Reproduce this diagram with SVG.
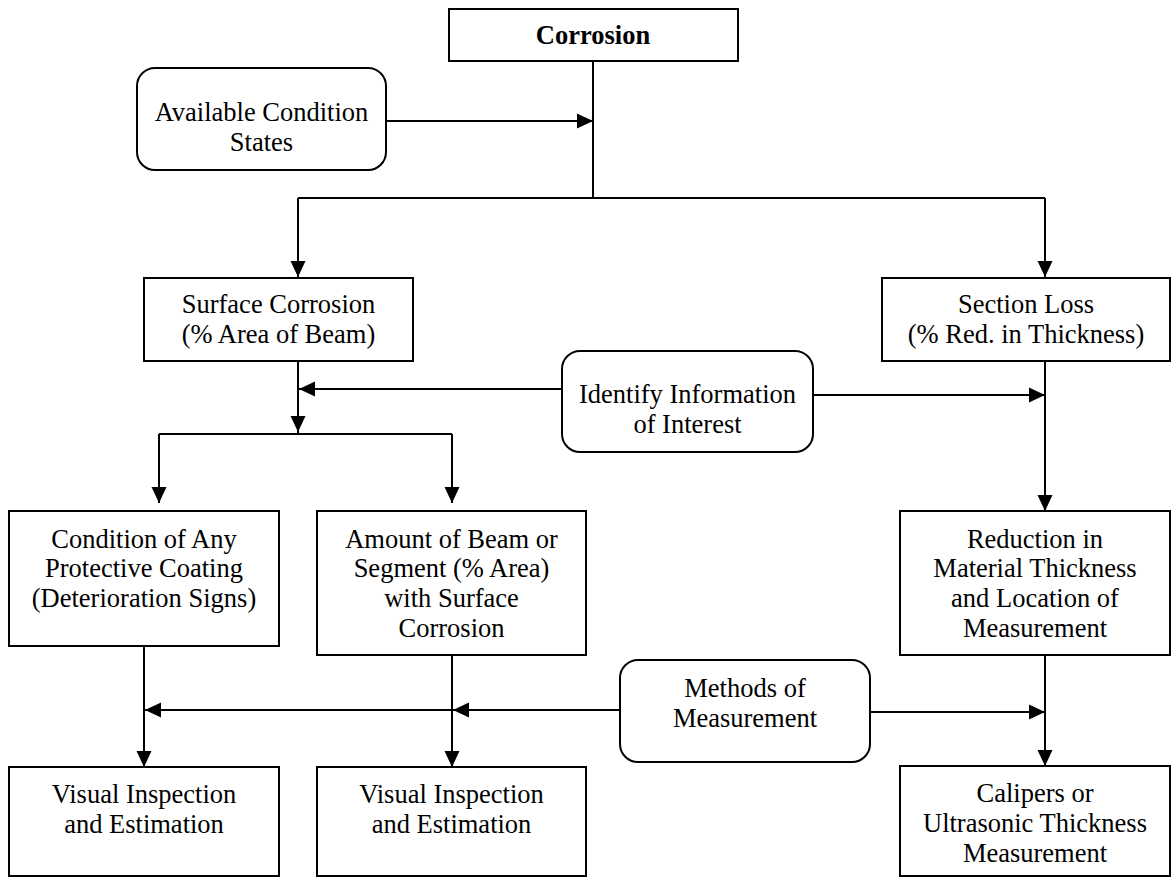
<svg xmlns="http://www.w3.org/2000/svg" width="1171" height="879" viewBox="0 0 1171 879">
<defs>
<marker id="ah" markerUnits="userSpaceOnUse" markerWidth="17" markerHeight="17" refX="16" refY="8" orient="auto">
<path d="M0,0.5 L16,8 L0,15.5 Z" fill="#000"/>
</marker>
<style>
.box{fill:#fff;stroke:#000;stroke-width:2}
.t{font-family:"Liberation Serif","Times New Roman",serif;font-size:26.5px;fill:#000;text-anchor:middle}
.b{font-weight:bold}
.c{fill:none;stroke:#000;stroke-width:2}
.a{fill:none;stroke:#000;stroke-width:2;marker-end:url(#ah)}
</style>
</defs>
<rect width="1171" height="879" fill="#fff"/>
<g id="connectors">
<path class="c" d="M593,61 V198 M298,198 H1045"/>
<path class="a" d="M298,198 V277"/>
<path class="a" d="M1045,198 V277"/>
<path class="a" d="M386,121 H593"/>
<path class="c" d="M298,361 V434 M159,434 H452"/>
<path class="a" d="M298,361 V432"/>
<path class="a" d="M159,434 V503"/>
<path class="a" d="M452,434 V503"/>
<path class="a" d="M562,389 H299"/>
<path class="a" d="M813,395 H1045"/>
<path class="a" d="M1045,361 V511"/>
<path class="a" d="M144,646 V767"/>
<path class="a" d="M452,655 V767"/>
<path class="a" d="M620,710 H453"/>
<path class="a" d="M452,710 H145"/>
<path class="a" d="M870,712 H1045"/>
<path class="a" d="M1045,655 V766"/>
</g>
<g id="corrosion">
<rect class="box" x="449" y="9" width="289" height="52"/>
<text class="t b" x="593" y="44">Corrosion</text>
</g>
<g id="available">
<rect class="box" x="137" y="68" width="249" height="102" rx="18" ry="18"/>
<text class="t" x="261.5" y="121">Available Condition</text>
<text class="t" x="261.5" y="151">States</text>
</g>
<g id="surface">
<rect class="box" x="144" y="278" width="269" height="83"/>
<text class="t" x="278.5" y="313">Surface Corrosion</text>
<text class="t" x="278.5" y="343">(% Area of Beam)</text>
</g>
<g id="section">
<rect class="box" x="882" y="278" width="288" height="83"/>
<text class="t" x="1026" y="313">Section Loss</text>
<text class="t" x="1026" y="343">(% Red. in Thickness)</text>
</g>
<g id="identify">
<rect class="box" x="562" y="351" width="251" height="101" rx="18" ry="18"/>
<text class="t" x="687.5" y="403">Identify Information</text>
<text class="t" x="687.5" y="433">of Interest</text>
</g>
<g id="condition">
<rect class="box" x="9" y="511" width="270" height="135"/>
<text class="t" x="144" y="548">Condition of Any</text>
<text class="t" x="144" y="577">Protective Coating</text>
<text class="t" x="144" y="607">(Deterioration Signs)</text>
</g>
<g id="amount">
<rect class="box" x="317" y="511" width="269" height="144"/>
<text class="t" x="451.5" y="548">Amount of Beam or</text>
<text class="t" x="451.5" y="577">Segment (% Area)</text>
<text class="t" x="451.5" y="607">with Surface</text>
<text class="t" x="451.5" y="637">Corrosion</text>
</g>
<g id="reduction">
<rect class="box" x="900" y="511" width="270" height="144"/>
<text class="t" x="1035" y="548">Reduction in</text>
<text class="t" x="1035" y="577">Material Thickness</text>
<text class="t" x="1035" y="607">and Location of</text>
<text class="t" x="1035" y="637">Measurement</text>
</g>
<g id="methods">
<rect class="box" x="620" y="660" width="250" height="102" rx="18" ry="18"/>
<text class="t" x="745" y="697">Methods of</text>
<text class="t" x="745" y="727">Measurement</text>
</g>
<g id="visual1">
<rect class="box" x="9" y="767" width="270" height="109"/>
<text class="t" x="144" y="803">Visual Inspection</text>
<text class="t" x="144" y="833">and Estimation</text>
</g>
<g id="visual2">
<rect class="box" x="317" y="767" width="269" height="109"/>
<text class="t" x="451.5" y="803">Visual Inspection</text>
<text class="t" x="451.5" y="833">and Estimation</text>
</g>
<g id="calipers">
<rect class="box" x="900" y="766" width="270" height="110"/>
<text class="t" x="1035" y="802">Calipers or</text>
<text class="t" x="1035" y="832">Ultrasonic Thickness</text>
<text class="t" x="1035" y="862">Measurement</text>
</g>
</svg>
